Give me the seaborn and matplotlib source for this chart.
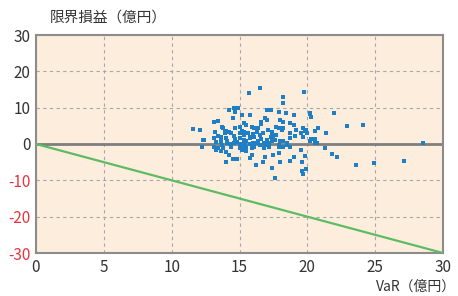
import matplotlib
matplotlib.use("Agg")
import matplotlib.pyplot as plt
import seaborn as sns
import pandas as pd
import numpy as np

# VaR (億円) values of the scatter points
var_x = [
    16.5, 15.7, 18.2, 18.2,
    14.2, 14.6, 14.7, 14.9, 14.5, 13.1, 13.4, 11.6, 12.1,
    13.7, 13.8, 13.9, 13.9, 14.0, 14.2, 14.4,
    14.7, 15.0, 15.0, 15.2, 15.3, 15.3,
    13.1, 13.4, 13.3, 13.6, 13.6,
    14.0, 14.1, 14.3, 14.4, 12.2, 12.3, 12.4,
    13.1, 13.4, 13.7, 13.8, 13.3, 13.6, 14.0, 14.2,
    14.0, 14.5, 14.8,
    14.7, 14.8, 15.0, 15.0, 15.2, 15.3, 15.0, 15.2, 15.4,
    17.0, 17.3, 17.9, 18.4, 15.2, 15.8, 19.0,
    16.9, 17.0, 16.6, 16.6, 18.0, 18.2,
    17.7, 17.9, 18.1, 18.2, 18.7, 19.0,
    15.5, 15.9, 16.1, 16.4,
    15.3, 15.6, 16.0, 16.3, 16.5, 16.7,
    17.1, 17.4, 17.5, 17.7, 18.7, 19.1, 19.2,
    15.0, 15.3, 15.5, 15.8, 16.1, 16.4, 16.6, 17.0,
    17.4, 17.6, 18.0, 18.2, 18.7,
    15.2, 15.5, 15.9, 16.1, 16.5, 16.8,
    17.2, 17.9, 18.2, 18.7,
    15.9, 15.8, 16.9, 17.5, 17.9, 19.0, 18.7,
    16.2, 16.7, 17.4, 18.0, 15.5, 17.6,
    15.8, 16.3, 16.9, 17.2, 17.4, 17.9, 18.5, 13.2, 13.6, 14.1,
    14.6, 15.1, 15.8, 16.8, 17.3, 18.5, 16.0, 17.1, 14.6, 15.4,
    19.75, 19.7, 19.8, 20.0, 19.5, 19.65, 20.2, 20.3,
    20.3, 20.2, 20.6, 20.6, 20.8, 20.6, 21.4,
    19.5, 19.8, 19.6, 19.9, 19.65,
    22.0, 22.9, 24.1, 28.5, 27.1, 24.9, 23.6, 22.2, 21.8, 21.3,
    20.2, 20.7, 19.9, 19.6,
]

# 限界損益 (億円) values of the scatter points
profit_y = [
    15.3, 14.1, 12.8, 11.2,
    9.4, 9.8, 8.7, 10.0, 7.1, 6.1, 6.3, 4.1, 3.8,
    4.8, 4.3, 3.7, 3.0, 3.5, 3.2, 3.0,
    4.3, 2.9, 4.8, 3.6, 5.7, 2.5,
    1.7, 2.3, 0.6, 0.6, 1.1,
    1.7, 0.8, -0.1, -0.7, -0.7, 1.1, 1.2,
    -0.7, -1.2, -0.3, -1.0, -1.6, -1.9, -2.1, -3.0,
    -4.9, -4.0, -4.0,
    1.5, 0.6, -0.3, -0.7, 0.1, 0.6, -1.2, -1.7, -1.2,
    9.4, 9.4, 8.9, 8.4, 8.0, 8.0, 8.0,
    7.1, 6.6, 6.1, 5.4, 6.6, 6.1,
    4.8, 4.3, 3.9, 4.3, 5.7, 5.2,
    5.2, 4.8, 4.3, 4.5,
    3.4, 3.0, 2.7, 3.4, 2.5, 3.0,
    3.9, 3.4, 2.1, 2.5, 3.0, 2.1, 3.9,
    1.6, 1.1, 0.7, 1.6, 1.8, 0.7, 1.4, 1.1,
    0.7, 1.1, 0.7, 0.9, 1.6,
    -0.7, -0.7, -1.2, -0.7, -0.3, -1.2,
    -0.7, -0.7, -0.7, -0.7,
    -3.0, -3.9, -3.5, -2.9, -2.6, -3.5, -4.7,
    -5.9, -5.0, -6.5, -4.9, -1.9, -9.4,
    2.0, 0.2, 0.1, 0.4, 2.2, -0.2, 0.2, 3.2, 1.9, 0.3,
    2.1, 0.1, -0.1, 0.3, 1.9, -0.2, 0.2, -0.2, 0.3, -0.4,
    14.2, 4.3, 3.6, 2.9, 2.9, 1.8, 8.3, 7.3,
    1.3, 0.9, 1.4, 0.2, 4.5, 3.6, 2.9,
    -1.7, -3.3, -4.9, -6.9, -8.3,
    8.4, 5.0, 5.2, 0.4, -4.6, -5.1, -5.8, -3.5, -2.8, -1.2,
    8.4, 0.2, 3.9, -7.5,
]

# Loss-limit line: 限界損益 = -VaR
line_x = [0, 30]
line_y = [0, -30]

x_ticks = [0, 5, 10, 15, 20, 25, 30]
y_ticks = [-30, -20, -10, 0, 10, 20, 30]

sns.set_style("white")
plt.rcParams['font.family'] = ['Noto Sans CJK JP', 'DejaVu Sans']

df = pd.DataFrame({"VaR": var_x, "profit": profit_y})
line_df = pd.DataFrame({"VaR": line_x, "profit": line_y})

fig = plt.figure(figsize=(4.58, 2.96), dpi=100)
ax = fig.add_axes([36 / 458, 1 - 253 / 296, (443 - 36) / 458, (253 - 35) / 296])
ax.set_facecolor('#fdeddd')

ax.set_xlim(0, 30)
ax.set_ylim(-30, 30)
ax.set_xticks(x_ticks)
ax.set_yticks(y_ticks)
ax.grid(True, color='#a8a8a8', linestyle=(0, (3, 3)), linewidth=0.8)
ax.set_axisbelow(True)

ax.axhline(0, color='#7f7f7f', linewidth=2, zorder=2)
sns.lineplot(data=line_df, x="VaR", y="profit", ax=ax, color='#5dbb63',
             linewidth=1.6, zorder=3)
sns.scatterplot(data=df, x="VaR", y="profit", ax=ax, color='#1f7fc6',
                s=6, marker='s', linewidth=0, zorder=4)

for sp in ax.spines.values():
    sp.set_color('#8c8c8c')
    sp.set_linewidth(1.5)

ax.tick_params(axis='both', length=0, labelsize=11, colors='#333333', pad=4)
ax.set_xticklabels([str(v) for v in x_ticks])
ax.set_yticklabels([str(v) for v in y_ticks])
for lab, v in zip(ax.get_yticklabels(), y_ticks):
    lab.set_color('#e8343f' if v < 0 else '#333333')

ax.set_xlabel("")
ax.set_ylabel("")
fig.text(50 / 458, 1 - 18 / 296, "限界損益（億円）", fontsize=10.5, color='#333333',
         va='center', ha='left')
fig.text(456 / 458, 1 - 287 / 296, "VaR（億円）", fontsize=10, color='#333333',
         va='center', ha='right')

fig.savefig("out.png", dpi=100)
